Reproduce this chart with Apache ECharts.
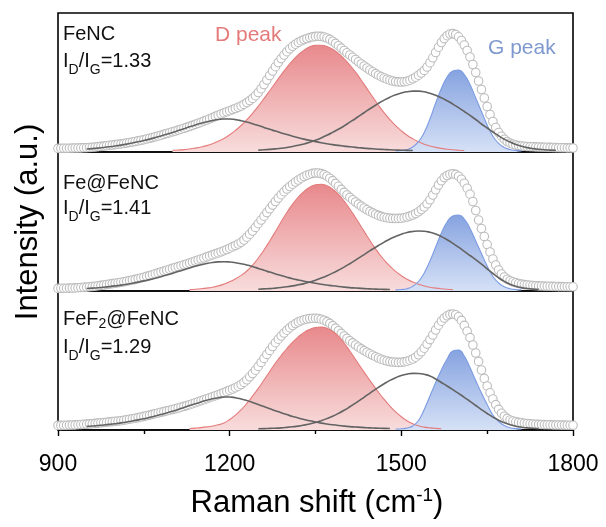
<!DOCTYPE html>
<html>
<head>
<meta charset="utf-8">
<script src="https://cdn.jsdelivr.net/npm/echarts@6.0.0/dist/echarts.min.js"></script>
<style>
  html, body { margin: 0; padding: 0; background: #fff; }
  #chart { width: 606px; height: 527px; }
</style>
</head>
<body>
<div id="chart"></div>
<script>
// Raman spectra of three catalysts with D/G band deconvolution.
const SAMPLES = ['FeNC', 'Fe@FeNC', 'FeF2@FeNC'];
const RATIOS = ['1.33', '1.41', '1.29'];
const SHIFT_MIN = 900, SHIFT_MAX = 1800, SHIFT_TICK = 300;

// Measured spectra, 900-1800 cm-1 every 5 cm-1
const MEASURED_START = 900, MEASURED_STEP = 5;
const measuredFeNC = [
  3.6, 3.6, 3.7, 3.7, 3.8, 3.9, 4.0, 4.0, 4.1, 4.2,
  4.3, 4.5, 4.8, 5.0, 5.3, 5.6, 5.9, 6.3, 6.7, 7.0,
  7.4, 7.8, 8.1, 8.5, 9.0, 9.5, 10.0, 10.5, 11.1, 11.7,
  12.3, 13.0, 13.7, 14.4, 15.2, 16.0, 16.8, 17.6, 18.5, 19.3,
  20.2, 21.0, 21.9, 22.8, 23.7, 24.6, 25.6, 26.6, 27.6, 28.7,
  29.8, 30.9, 32.0, 33.2, 34.4, 35.6, 36.8, 38.0, 39.1, 40.2,
  41.3, 42.4, 43.5, 44.7, 46.0, 47.6, 49.4, 51.4, 53.6, 56.3,
  59.5, 63.3, 67.5, 72.0, 76.5, 81.0, 85.3, 89.5, 93.4, 97.0,
  100.3, 103.2, 105.7, 107.8, 109.6, 111.1, 112.4, 113.5, 114.4, 115.1,
  115.6, 115.8, 115.6, 115.0, 114.0, 112.6, 110.8, 108.6, 106.3, 103.9,
  101.5, 99.2, 97.0, 94.8, 92.5, 90.2, 88.0, 86.0, 84.0, 82.0,
  80.2, 78.4, 76.8, 75.3, 74.0, 72.8, 71.8, 71.0, 70.4, 70.1,
  70.0, 70.2, 70.8, 71.8, 73.2, 74.8, 76.8, 79.0, 81.6, 85.0,
  89.3, 94.2, 99.5, 104.8, 109.5, 113.4, 116.3, 118.0, 118.4, 117.5,
  115.2, 111.5, 107.0, 101.5, 95.0, 87.5, 79.5, 71.0, 62.5, 54.0,
  45.5, 37.5, 30.5, 24.5, 19.5, 15.8, 12.8, 10.5, 8.9, 7.8,
  7.0, 6.4, 6.0, 5.7, 5.5, 5.3, 5.2, 5.1, 5.0, 4.9,
  4.8, 4.7, 4.6, 4.5, 4.4, 4.3, 4.2, 4.2, 4.1, 4.1,
  4.0
];
const measuredFeAtFeNC = [
  2.6, 2.7, 2.7, 2.8, 2.9, 3.0, 3.1, 3.3, 3.5, 3.7,
  3.9, 4.2, 4.5, 4.8, 5.2, 5.6, 6.0, 6.5, 7.0, 7.4,
  7.8, 8.2, 8.7, 9.2, 9.8, 10.4, 11.0, 11.6, 12.3, 13.0,
  13.8, 14.6, 15.4, 16.3, 17.2, 18.1, 19.0, 19.9, 20.8, 21.7,
  22.6, 23.5, 24.4, 25.3, 26.2, 27.0, 28.0, 29.0, 30.0, 31.0,
  32.0, 33.0, 34.1, 35.1, 36.1, 37.1, 38.1, 39.2, 40.3, 41.5,
  42.8, 44.1, 45.5, 47.0, 48.7, 51.0, 53.8, 56.8, 60.0, 63.6,
  67.3, 71.0, 74.8, 78.5, 82.2, 85.9, 89.5, 93.0, 96.3, 99.3,
  102.0, 104.5, 106.8, 109.0, 111.0, 112.8, 114.4, 115.7, 116.8, 117.6,
  118.0, 118.0, 117.4, 116.4, 114.8, 112.8, 110.4, 107.6, 104.7, 101.6,
  98.6, 96.0, 93.6, 91.3, 89.0, 86.9, 84.9, 83.0, 81.2, 79.6,
  78.1, 76.8, 75.6, 74.6, 73.8, 73.2, 72.8, 72.6, 72.5, 72.6,
  72.8, 73.3, 74.0, 74.9, 76.0, 77.4, 79.2, 81.4, 84.0, 87.2,
  91.2, 96.0, 101.2, 106.0, 110.2, 113.4, 115.5, 116.8, 117.2, 116.6,
  114.8, 111.8, 107.8, 102.8, 96.8, 89.5, 80.5, 71.0, 62.5, 54.5,
  46.5, 39.0, 32.0, 26.0, 21.0, 17.0, 14.0, 11.8, 10.3, 9.2,
  8.3, 7.5, 6.9, 6.4, 6.0, 5.7, 5.5, 5.3, 5.1, 5.0,
  4.9, 4.8, 4.7, 4.6, 4.5, 4.4, 4.4, 4.3, 4.3, 4.2,
  4.2
];
const measuredFeF2AtFeNC = [
  4.6, 4.6, 4.7, 4.8, 4.9, 5.0, 5.1, 5.3, 5.5, 5.7,
  5.9, 6.1, 6.3, 6.6, 6.9, 7.2, 7.5, 7.8, 8.1, 8.4,
  8.7, 9.0, 9.3, 9.8, 10.3, 10.8, 11.3, 11.8, 12.4, 13.0,
  13.6, 14.2, 14.9, 15.6, 16.3, 17.0, 17.7, 18.4, 19.1, 19.8,
  20.5, 21.2, 22.0, 22.8, 23.6, 24.4, 25.3, 26.3, 27.3, 28.3,
  29.3, 30.3, 31.3, 32.3, 33.3, 34.3, 35.3, 36.4, 37.5, 38.6,
  39.8, 41.0, 42.3, 43.8, 45.5, 47.6, 50.2, 53.2, 56.4, 59.8,
  63.6, 67.6, 71.6, 75.6, 79.6, 83.5, 87.3, 90.8, 94.0, 97.0,
  99.8, 102.3, 104.5, 106.4, 108.0, 109.3, 110.3, 111.0, 111.5, 111.8,
  111.8, 111.5, 110.8, 109.8, 108.4, 106.6, 104.4, 101.9, 99.3, 96.6,
  94.0, 91.6, 89.3, 87.1, 85.0, 83.0, 81.1, 79.4, 77.8, 76.2,
  74.7, 73.3, 72.0, 70.8, 69.8, 69.0, 68.4, 68.0, 67.7, 67.6,
  67.7, 68.1, 68.8, 69.8, 71.0, 72.8, 75.2, 78.2, 81.8, 86.0,
  90.4, 95.0, 100.0, 104.8, 108.8, 112.0, 114.2, 115.6, 116.0, 115.3,
  113.2, 109.6, 104.6, 98.8, 92.4, 85.0, 77.0, 68.6, 60.0, 51.6,
  44.0, 37.2, 31.0, 25.4, 20.6, 16.8, 13.8, 11.6, 10.0, 9.0,
  8.2, 7.6, 7.2, 6.8, 6.5, 6.2, 6.0, 5.8, 5.6, 5.5,
  5.4, 5.3, 5.2, 5.1, 5.0, 5.0, 4.9, 4.9, 4.8, 4.8,
  4.7
];

// Fitted bands, every 10 cm-1 from the given start
const FIT_STEP = 10;
const BAND1_START = 950, DBAND_START = [1100, 1130, 1130], BAND3_START = 1250, GBAND_START = 1490;

const band1FeNC = [3.0, 3.4, 3.9, 4.5, 5.2, 6.0, 6.9, 7.9, 9.0, 10.2, 11.5, 12.9, 14.4, 16.0, 17.7, 19.5, 21.4, 23.3, 25.2, 27.0, 28.7, 30.2, 31.5, 32.5, 33.0, 33.0, 32.4, 31.3, 29.9, 28.3, 26.5, 24.6, 22.7, 20.9, 19.1, 17.4, 15.8, 14.3, 12.9, 11.6, 10.4, 9.3, 8.3, 7.4, 6.6, 5.9, 5.2, 4.6, 4.1, 3.6, 3.2, 2.8, 2.5, 2.2, 2.0, 1.8, 1.6, 1.5];
const dBandFeNC = [1.7, 2.0, 2.4, 3.0, 3.9, 5.0, 6.4, 8.3, 10.7, 13.6, 17.2, 21.5, 26.5, 32.3, 38.7, 45.8, 53.4, 61.3, 69.3, 77.2, 84.7, 91.5, 97.3, 101.9, 105.2, 106.8, 106.8, 105.5, 102.8, 98.6, 93.2, 87.0, 79.8, 71.8, 63.4, 55.0, 46.8, 39.2, 32.4, 26.4, 21.2, 16.8, 13.2, 10.2, 7.8, 6.0, 4.6, 3.6, 2.8, 2.2, 1.8, 1.5];
const band3FeNC = [1.9, 2.2, 2.6, 3.1, 3.7, 4.5, 5.5, 6.7, 8.1, 9.8, 11.8, 14.1, 16.7, 19.6, 22.7, 26.1, 29.8, 33.5, 37.4, 41.3, 45.0, 48.6, 51.9, 54.8, 57.2, 59.1, 60.3, 60.9, 60.9, 60.2, 58.7, 56.7, 54.2, 51.2, 47.9, 44.3, 40.5, 36.6, 32.5, 28.0, 24.0, 20.0, 16.2, 12.8, 9.9, 7.6, 5.8, 4.4, 3.4, 2.7, 2.2, 1.9, 1.7];
const gBandFeNC = [1.1, 1.6, 2.5, 5.0, 10.3, 19.5, 33.0, 49.0, 63.5, 75.0, 81.0, 82.0, 77.5, 67.5, 54.0, 40.5, 27.0, 15.7, 8.6, 4.5, 2.5, 1.6, 1.1];

const band1FeAtFeNC = [2.5, 2.9, 3.3, 3.8, 4.4, 5.1, 5.9, 6.8, 7.8, 8.9, 10.1, 11.4, 12.8, 14.3, 15.9, 17.6, 19.4, 21.2, 23.0, 24.7, 26.2, 27.5, 28.5, 29.1, 29.3, 29.0, 28.3, 27.3, 26.0, 24.4, 22.6, 20.7, 18.9, 17.1, 15.4, 13.8, 12.3, 11.0, 9.8, 8.7, 7.7, 6.8, 6.0, 5.2, 4.5, 3.9, 3.4, 3.0, 2.6, 2.3, 2.0, 1.8, 1.6, 1.5];
const dBandFeAtFeNC = [1.4, 1.7, 2.2, 2.9, 3.8, 5.1, 6.9, 9.2, 12.1, 15.6, 20.0, 25.8, 33.0, 41.0, 50.0, 59.5, 69.3, 78.5, 86.9, 94.0, 99.6, 103.8, 106.2, 106.7, 105.2, 101.8, 96.7, 90.0, 82.0, 73.3, 64.2, 55.0, 46.2, 38.2, 31.0, 24.8, 19.6, 15.3, 11.8, 9.0, 6.8, 5.1, 3.8, 2.9, 2.2, 1.7, 1.4];
const band3FeAtFeNC = [1.8, 2.1, 2.4, 2.9, 3.5, 4.2, 5.1, 6.2, 7.4, 9.0, 10.8, 12.9, 15.2, 17.9, 20.8, 23.9, 27.3, 30.9, 34.6, 38.3, 42.0, 45.5, 48.9, 52.0, 54.6, 56.8, 58.5, 59.5, 60.0, 59.8, 58.7, 56.9, 54.4, 51.3, 47.7, 43.8, 39.7, 35.5, 31.3, 26.8, 22.2, 17.5, 13.2, 9.6, 6.8, 4.8, 3.4, 2.5, 1.9, 1.6];
const gBandFeAtFeNC = [1.1, 1.5, 2.3, 4.6, 9.5, 18.0, 30.0, 44.0, 58.0, 69.0, 75.0, 76.0, 72.0, 62.5, 50.0, 37.5, 25.0, 14.5, 8.0, 4.2, 2.3, 1.5, 1.1];

const band1FeF2AtFeNC = [3.6, 4.0, 4.5, 5.0, 5.6, 6.3, 7.1, 8.0, 9.0, 10.1, 11.3, 12.6, 14.0, 15.5, 17.1, 18.8, 20.6, 22.5, 24.4, 26.3, 28.1, 29.8, 31.2, 32.3, 33.0, 33.0, 32.3, 31.0, 29.4, 27.5, 25.5, 23.4, 21.3, 19.3, 17.3, 15.4, 13.6, 12.0, 10.5, 9.2, 8.0, 6.9, 6.0, 5.2, 4.5, 3.9, 3.4, 3.0, 2.6, 2.3, 2.0, 1.8, 1.6, 1.5];
const dBandFeF2AtFeNC = [1.5, 1.9, 2.4, 3.1, 4.0, 5.2, 7.0, 10.5, 14.8, 20.2, 26.6, 33.8, 41.6, 50.0, 58.5, 67.0, 74.5, 81.5, 87.8, 93.2, 97.6, 100.6, 102.5, 103.0, 101.8, 98.6, 93.8, 87.0, 79.0, 70.5, 62.0, 53.8, 45.6, 37.8, 30.6, 24.0, 18.2, 13.2, 9.2, 6.2, 4.2, 2.9, 2.1, 1.6, 1.3];
const band3FeF2AtFeNC = [1.3, 1.4, 1.6, 1.8, 2.1, 2.6, 3.2, 3.9, 4.9, 6.1, 7.5, 9.3, 11.4, 13.8, 16.6, 19.7, 23.2, 26.9, 30.8, 34.8, 38.8, 42.7, 46.3, 49.6, 52.3, 54.5, 55.9, 56.6, 56.5, 55.7, 54.1, 51.0, 47.5, 44.0, 40.4, 36.6, 32.7, 28.6, 24.5, 20.4, 16.5, 12.9, 9.8, 7.3, 5.3, 3.8, 2.8, 2.1, 1.7, 1.4];
const gBandFeF2AtFeNC = [1.0, 1.3, 1.9, 4.0, 9.5, 20.5, 34.0, 47.5, 60.0, 71.0, 79.0, 80.0, 74.0, 62.5, 49.5, 37.0, 25.5, 15.0, 8.5, 4.5, 2.3, 1.4, 1.0];

const MEASURED = [measuredFeNC, measuredFeAtFeNC, measuredFeF2AtFeNC];
const BAND1 = [band1FeNC, band1FeAtFeNC, band1FeF2AtFeNC];
const DBAND = [dBandFeNC, dBandFeAtFeNC, dBandFeF2AtFeNC];
const BAND3 = [band3FeNC, band3FeAtFeNC, band3FeF2AtFeNC];
const GBAND = [gBandFeNC, gBandFeAtFeNC, gBandFeF2AtFeNC];

const FONT = "'Liberation Sans', Arial, sans-serif";
const PANEL_TOP = 13, PANEL_H = 139;

function pairs(values, start, step) {
  return values.map((v, i) => [start + i * step, v]);
}

const chart = echarts.init(document.getElementById('chart'), null, { renderer: 'canvas' });

const grid = [], xAxis = [], yAxis = [], series = [];
for (let p = 0; p < 3; p++) {
  const last = p === 2;
  grid.push({
    left: 58, right: 33, top: PANEL_TOP + p * PANEL_H, height: PANEL_H,
    show: true, borderColor: '#000', borderWidth: 1.6, backgroundColor: 'transparent'
  });
  xAxis.push({
    gridIndex: p, type: 'value', min: SHIFT_MIN, max: SHIFT_MAX, interval: SHIFT_TICK,
    axisLine: { show: last, onZero: false, lineStyle: { color: '#000', width: 1.6 } },
    axisTick: { show: last, inside: false, length: 6, lineStyle: { color: '#000', width: 1.4 } },
    minorTick: { show: last, splitNumber: 2, length: 4, lineStyle: { color: '#000', width: 1.4 } },
    axisLabel: { show: last, fontSize: 23, color: '#000', fontFamily: FONT, margin: 23,
      formatter: (v) => String(v) },
    splitLine: { show: false }
  });
  yAxis.push({ gridIndex: p, type: 'value', min: 0, max: PANEL_H, show: false });

  const common = { xAxisIndex: p, yAxisIndex: p, silent: true, animation: false };
  series.push(Object.assign({
    type: 'line', smooth: true, showSymbol: false,
    data: pairs(DBAND[p], DBAND_START[p], FIT_STEP),
    lineStyle: { color: '#e47b7b', width: 1.1 },
    areaStyle: { color: new echarts.graphic.LinearGradient(0, 0, 0, 1, [
      { offset: 0, color: '#e8898c' }, { offset: 1, color: '#f8dcdc' }]), opacity: 1 }
  }, common));
  series.push(Object.assign({
    type: 'line', smooth: true, showSymbol: false,
    data: pairs(GBAND[p], GBAND_START, FIT_STEP),
    lineStyle: { color: '#7b9be2', width: 1.1 },
    areaStyle: { color: new echarts.graphic.LinearGradient(0, 0, 0, 1, [
      { offset: 0, color: '#86a3e0' }, { offset: 1, color: '#d6e1f6' }]), opacity: 1 }
  }, common));
  series.push(Object.assign({
    type: 'line', smooth: true, showSymbol: false,
    data: pairs(BAND1[p], BAND1_START, FIT_STEP),
    lineStyle: { color: '#636363', width: 1.6 }
  }, common));
  series.push(Object.assign({
    type: 'line', smooth: true, showSymbol: false,
    data: pairs(BAND3[p], BAND3_START, FIT_STEP),
    lineStyle: { color: '#636363', width: 1.6 }
  }, common));
  series.push(Object.assign({
    type: 'scatter', symbol: 'circle', symbolSize: 8.5,
    data: pairs(MEASURED[p], MEASURED_START, MEASURED_STEP),
    itemStyle: { color: '#fff', borderColor: '#bdbdbd', borderWidth: 1.1, opacity: 1 }
  }, common));
}

// Sample name with digits set as subscripts
function nameRich(name) {
  return name.replace(/([A-Za-z@]+)|(\d+)/g, (m, word, digits) => word ? '{m|' + word + '}' : '{s|' + digits + '}');
}

const graphic = [];
const NAME_Y = [34, 183, 319], RATIO_Y = [61, 208, 347];
for (let p = 0; p < 3; p++) {
  graphic.push({
    type: 'text', x: 63, y: NAME_Y[p], silent: true,
    style: {
      text: nameRich(SAMPLES[p]), align: 'left', verticalAlign: 'middle',
      rich: {
        m: { fontSize: 20, fontFamily: FONT, fill: '#111', lineHeight: 24 },
        s: { fontSize: 14, fontFamily: FONT, fill: '#111', lineHeight: 24, verticalAlign: 'bottom' }
      }
    }
  });
  graphic.push({
    type: 'text', x: 63, y: RATIO_Y[p], silent: true,
    style: {
      text: '{m|I}{s|D}{m|/I}{s|G}{m|=' + RATIOS[p] + '}', align: 'left', verticalAlign: 'middle',
      rich: {
        m: { fontSize: 20, fontFamily: FONT, fill: '#111', lineHeight: 32 },
        s: { fontSize: 14, fontFamily: FONT, fill: '#111', lineHeight: 32, verticalAlign: 'bottom' }
      }
    }
  });
}
graphic.push({
  type: 'text', x: 215, y: 35, silent: true,
  style: { text: 'D peak', fontSize: 21, fontFamily: FONT, fill: '#e57a7a', align: 'left', verticalAlign: 'middle' }
});
graphic.push({
  type: 'text', x: 488, y: 48, silent: true,
  style: { text: 'G peak', fontSize: 21, fontFamily: FONT, fill: '#7f99cf', align: 'left', verticalAlign: 'middle' }
});
graphic.push({
  type: 'text', x: 28, y: 222, rotation: Math.PI / 2, silent: true,
  style: { text: 'Intensity (a.u.)', fontSize: 31, fontFamily: FONT, fill: '#000', align: 'center', verticalAlign: 'middle' }
});
graphic.push({
  type: 'text', x: 317, y: 503, silent: true,
  style: {
    text: '{m|Raman shift (cm}{u|-1}{m|)}', align: 'center', verticalAlign: 'middle',
    rich: {
      m: { fontSize: 31, fontFamily: FONT, fill: '#000', lineHeight: 33 },
      u: { fontSize: 19, fontFamily: FONT, fill: '#000', lineHeight: 33, verticalAlign: 'top' }
    }
  }
});

chart.setOption({
  animation: false,
  backgroundColor: '#fff',
  grid, xAxis, yAxis, series, graphic
});
</script>
</body>
</html>
